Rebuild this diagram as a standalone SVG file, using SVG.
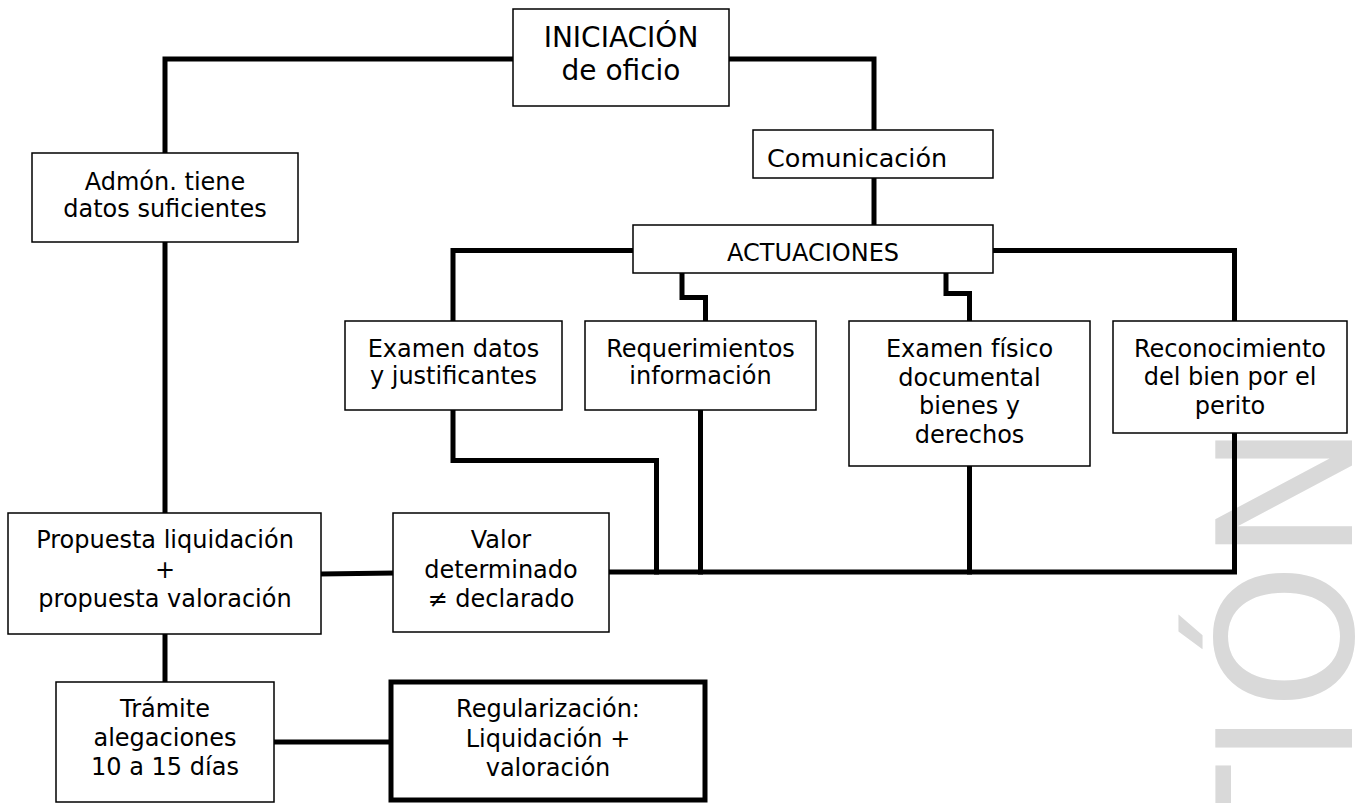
<svg xmlns="http://www.w3.org/2000/svg" width="1362" height="803" viewBox="0 0 1362 803">
<style>
.box{fill:#fff;stroke:#000;stroke-width:1.5}
.thick{fill:#fff;stroke:#000;stroke-width:5}
.wire{fill:none;stroke:#000;stroke-width:5;stroke-linejoin:miter;stroke-linecap:square}
text{font-family:"DejaVu Sans",Verdana,sans-serif;font-size:24px;fill:#000;text-anchor:middle}
.wm{font-size:188px;fill:#d9d9d9;text-anchor:end}
</style>
<rect width="1362" height="803" fill="#fff"/>
<text class="wm" transform="translate(1352,422) rotate(-90)">TIÓN</text>
<g id="connectors">
<path class="wire" d="M513,59 H165 V153"/>
<path class="wire" d="M729,59 H874 V130"/>
<path class="wire" d="M874,178 V225"/>
<path class="wire" d="M165,242 V513"/>
<path class="wire" d="M633,250.5 H453 V321"/>
<path class="wire" d="M682,273 V297.5 H705.5 V321"/>
<path class="wire" d="M946,273 V293.5 H969.5 V321"/>
<path class="wire" d="M993,250.5 H1234.5 V321"/>
<path class="wire" d="M453,410 V460.5 H656.5 V572"/>
<path class="wire" d="M700.5,410 V572"/>
<path class="wire" d="M969.5,466 V572"/>
<path class="wire" d="M1234.5,433 V572 H609"/>
<path class="wire" d="M321,574 L393,573"/>
<path class="wire" d="M165,634 V682"/>
<path class="wire" d="M274,742 H391"/>
</g>
<g id="iniciacion">
<rect class="box" x="513" y="9" width="216" height="97"/>
<text x="621" y="47" style="font-size:28px">INICIACIÓN</text>
<text x="621" y="80" style="font-size:28px">de oficio</text>
</g>
<g id="comunicacion">
<rect class="box" x="753" y="130" width="240" height="48"/>
<text x="767" y="167" style="font-size:25.5px;text-anchor:start">Comunicación</text>
</g>
<g id="admon">
<rect class="box" x="32" y="153" width="266" height="89"/>
<text x="165" y="190">Admón. tiene</text>
<text x="165" y="217">datos suficientes</text>
</g>
<g id="actuaciones">
<rect class="box" x="633" y="225" width="360" height="48"/>
<text x="813" y="261">ACTUACIONES</text>
</g>
<g id="examen-datos">
<rect class="box" x="345" y="321" width="217" height="89"/>
<text x="453.5" y="357">Examen datos</text>
<text x="453.5" y="384">y justificantes</text>
</g>
<g id="requerimientos">
<rect class="box" x="585" y="321" width="231" height="89"/>
<text x="700.5" y="357">Requerimientos</text>
<text x="700.5" y="384">información</text>
</g>
<g id="examen-fisico">
<rect class="box" x="849" y="321" width="241" height="145"/>
<text x="969.5" y="357">Examen físico</text>
<text x="969.5" y="386">documental</text>
<text x="969.5" y="414">bienes y</text>
<text x="969.5" y="443">derechos</text>
</g>
<g id="reconocimiento">
<rect class="box" x="1113" y="321" width="234" height="112"/>
<text x="1230" y="357">Reconocimiento</text>
<text x="1230" y="385">del bien por el</text>
<text x="1230" y="414">perito</text>
</g>
<g id="propuesta">
<rect class="box" x="8" y="513" width="313" height="121"/>
<text x="165" y="548">Propuesta liquidación</text>
<text x="165" y="578">+</text>
<text x="165" y="607">propuesta valoración</text>
</g>
<g id="valor">
<rect class="box" x="393" y="513" width="216" height="119"/>
<text x="501" y="548">Valor</text>
<text x="501" y="578">determinado</text>
<text x="501" y="607">≠ declarado</text>
</g>
<g id="tramite">
<rect class="box" x="56" y="682" width="218" height="120"/>
<text x="165" y="717">Trámite</text>
<text x="165" y="746">alegaciones</text>
<text x="165" y="775">10 a 15 días</text>
</g>
<g id="regularizacion">
<rect class="thick" x="391" y="682" width="314" height="118"/>
<text x="548" y="717">Regularización:</text>
<text x="548" y="747">Liquidación +</text>
<text x="548" y="776">valoración</text>
</g>
</svg>
